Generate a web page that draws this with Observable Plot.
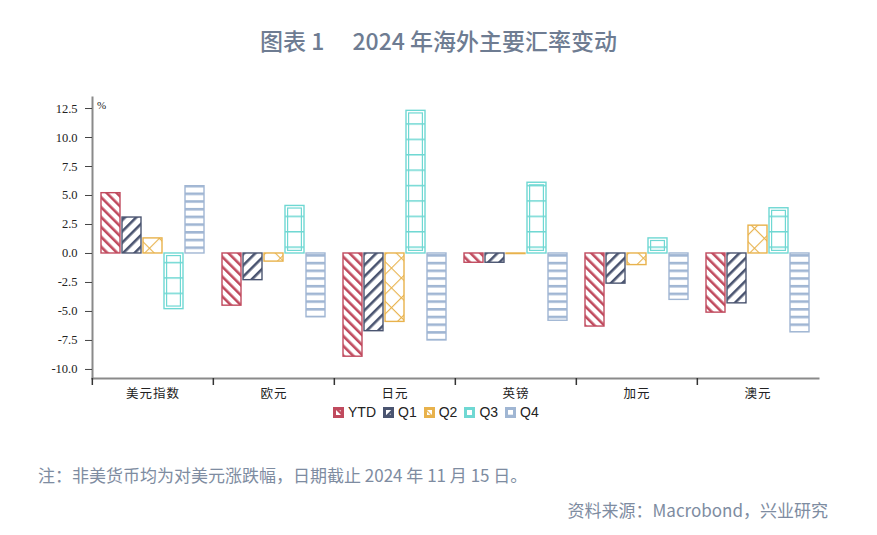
<!DOCTYPE html>
<html>
<head>
<meta charset="utf-8">
<script src="https://cdn.jsdelivr.net/npm/d3@7"></script>
<script src="https://cdn.jsdelivr.net/npm/@observablehq/plot@0.6"></script>
<style>
  html, body { margin: 0; padding: 0; background: #fff; }
  #wrap { position: relative; width: 877px; height: 535px; background: #fff; overflow: hidden; }
  #title { position: absolute; top: 23px; left: 0; width: 877px; text-align: center;
    font-family: "Noto Sans CJK SC", "Noto Sans", sans-serif; font-size: 23px; font-weight: 500; color: #6e7c92; }
  #chart { position: absolute; top: 0; left: 0; }
  #chart g[aria-label="y-axis tick label"] text { font-family: "Liberation Serif", "DejaVu Serif", serif; font-size: 12.5px; }
  #chart g[aria-label="fx-axis tick label"] text { font-family: "Noto Sans CJK SC", sans-serif; font-size: 12.5px; letter-spacing: 1px; }
  #pct { position: absolute; left: 97px; top: 99px; font-family: "Liberation Serif", serif; font-size: 11px; color: #222; }
  #legend { position: absolute; left: 333px; top: 404px; display: flex; align-items: center;
    font-family: "Liberation Sans Narrow", "Liberation Sans", Arial, sans-serif; font-size: 14px; color: #222; }
  #legend .item { display: flex; align-items: center; margin-right: 7px; }
  #legend svg { margin-right: 4px; }
  #note { position: absolute; left: 38px; top: 462px; font-family: "Noto Sans CJK SC", sans-serif; font-size: 17px; color: #7e8ca1; }
  #source { position: absolute; right: 49px; top: 497px; font-family: "Noto Sans CJK SC", sans-serif; font-size: 17px; color: #7e8ca1; }
</style>
</head>
<body>
<svg width="0" height="0" style="position:absolute">
  <defs>
    <pattern id="p-YTD" patternUnits="userSpaceOnUse" width="7" height="7" patternTransform="rotate(-45)">
      <rect width="7" height="7" fill="#fff"/>
      <rect x="0" y="0" width="2.6" height="7" fill="#c04a5e"/>
    </pattern>
    <pattern id="p-Q1" patternUnits="userSpaceOnUse" width="8" height="8" patternTransform="rotate(45)">
      <rect width="8" height="8" fill="#fff"/>
      <rect x="0" y="0" width="2.6" height="8" fill="#4a5470"/>
    </pattern>
    <pattern id="p-Q2" patternUnits="userSpaceOnUse" width="14" height="14" patternTransform="rotate(45)">
      <rect width="14" height="14" fill="#fff"/>
      <rect x="0" y="0" width="1.1" height="14" fill="#e8b24c"/>
      <rect x="0" y="0" width="14" height="1.1" fill="#e8b24c"/>
    </pattern>
    <pattern id="p-Q3" patternUnits="userSpaceOnUse" width="20" height="15.4">
      <rect width="20" height="15.4" fill="#fff"/>
      <rect x="0" y="0" width="20" height="1.5" fill="#6fd8d3"/>
    </pattern>
    <pattern id="p-Q4" patternUnits="userSpaceOnUse" width="20" height="7.7">
      <rect width="20" height="7.7" fill="#fff"/>
      <rect x="0" y="0" width="20" height="2.6" fill="#a0b6d3"/>
    </pattern>
  </defs>
</svg>
<div id="wrap">
  <div id="title">图表 1　 2024 年海外主要汇率变动</div>
  <div id="chart"></div>
  <div id="pct">%</div>
  <div id="legend"></div>
  <div id="note">注：非美货币均为对美元涨跌幅，日期截止 2024 年 11 月 15 日。</div>
  <div id="source">资料来源：Macrobond，兴业研究</div>
</div>
<script>
// ---- data ----
const categories = ["美元指数", "欧元", "日元", "英镑", "加元", "澳元"];
const seriesNames = ["YTD", "Q1", "Q2", "Q3", "Q4"];
const seriesColors = ["#c04a5e", "#4a5470", "#e8b24c", "#6fd8d3", "#a0b6d3"];
const ytd = [5.2, -4.5, -8.9, -0.8, -6.3, -5.1];
const q1  = [3.1, -2.3, -6.7, -0.8, -2.6, -4.3];
const q2  = [1.3, -0.7, -5.9, -0.05, -1.0, 2.4];
const q3  = [-4.8, 4.1, 12.3, 6.1, 1.3, 3.9];
const q4  = [5.8, -5.5, -7.5, -5.8, -4.0, -6.8];
const yTicks = [-10, -7.5, -5, -2.5, 0, 2.5, 5, 7.5, 10, 12.5];
const yDomain = [-10.78, 13.45];

const seriesValues = [ytd, q1, q2, q3, q4];
const rows = [];
seriesNames.forEach((s, si) => {
  categories.forEach((c, ci) => rows.push({c, s, v: seriesValues[si][ci]}));
});

const W = 877, H = 400, mL = 91, mR = 58, mT = 97, mB = 22;
const facetW = (W - mL - mR) / categories.length;

const marks = [];
seriesNames.forEach((s, si) => {
  const d = rows.filter(r => r.s === s);
  marks.push(Plot.barY(d, {
    fx: "c", x: "s", y: "v",
    fill: `url(#p-${s})`, stroke: seriesColors[si], strokeWidth: 1.4
  }));
  if (s === "Q3") {
    marks.push(Plot.barY(d, {
      fx: "c", x: "s", y: "v", fill: "none",
      stroke: seriesColors[si], strokeWidth: 1.2, inset: 2.6
    }));
  }
});

marks.push(
  Plot.frame({anchor: "left", facet: "super", stroke: "#8a8a8a", strokeWidth: 2}),
  Plot.frame({anchor: "bottom", facet: "super", stroke: "#8a8a8a", strokeWidth: 2}),
  Plot.axisY({ticks: yTicks, tickSize: 7, tickPadding: 8, tickFormat: d => d.toFixed(1),
    label: null, fontSize: 12, stroke: "#444", fill: "#222"}),
  Plot.axisFx({anchor: "bottom", tickSize: 7, tickFormat: () => "", label: null,
    dx: -facetW / 2, stroke: "#333", strokeWidth: 1.5}),
  Plot.axisFx({anchor: "bottom", tickSize: 0, tickPadding: 11, label: null,
    fontSize: 13, fill: "#222"})
);

const chart = Plot.plot({
  width: W, height: H,
  marginLeft: mL, marginRight: mR, marginTop: mT, marginBottom: mB,
  style: {background: "transparent", overflow: "visible"},
  fx: {domain: categories, padding: 0, label: null},
  x: {domain: seriesNames, paddingInner: 0.09, paddingOuter: 0.3, axis: null},
  y: {domain: yDomain, axis: null},
  marks
});
document.getElementById("chart").appendChild(chart);

// legend
const legend = document.getElementById("legend");
seriesNames.forEach((s, si) => {
  const item = document.createElement("div");
  item.className = "item";
  item.innerHTML = `<svg width="11" height="11"><rect x="1.5" y="1.5" width="8" height="8" fill="url(#p-${s})" stroke="${seriesColors[si]}" stroke-width="3"/></svg><span>${s}</span>`;
  legend.appendChild(item);
});
</script>
</body>
</html>
